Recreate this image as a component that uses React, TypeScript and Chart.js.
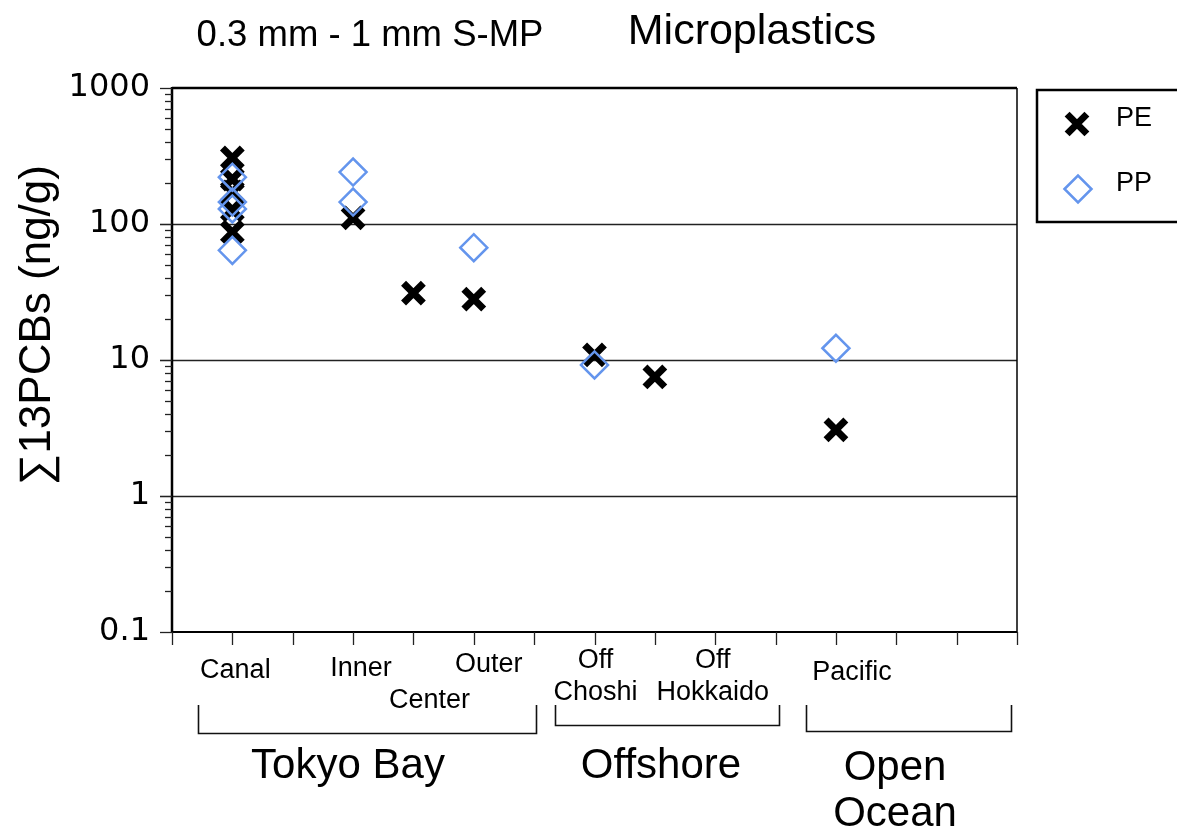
import React, { useEffect, useRef } from 'react';
import { Chart, registerables } from 'chart.js';

Chart.register(...registerables);

// ---- data ----
const categories = ['Canal', 'Inner', 'Center', 'Outer', 'Off Choshi', 'Off Hokkaido', 'Pacific'];
const categoryPositions = [1, 3, 4, 5, 7, 8, 11];
const peValues = [[306, 214, 172, 127, 87], [111], [31], [28], [10.9], [7.5], [3.06]];
const ppValues = [[221, 145, 129, 64], [241, 145], [], [67], [9.2], [], [12.2]];
const yTickValues = [0.1, 1, 10, 100, 1000];
const yTickLabels = ['0.1', '1', '10', '100', '1000'];
const xTickValues = [0, 1, 2, 3, 4, 5, 6, 7, 8, 9, 10, 11, 12, 13, 14];
const groupNames = ['Tokyo Bay', 'Offshore', 'Open\nOcean'];
const seriesNames = ['PE', 'PP'];
const titleLeft = '0.3 mm - 1 mm S-MP';
const titleRight = 'Microplastics';
const yAxisTitle = '\u221113PCBs (ng/g)';

// ---- layout (positions/styles) ----
const catLabelLayout = [
  { dx: 3, lines: ['Canal'], base: [678] },
  { dx: 8, lines: ['Inner'], base: [676] },
  { dx: 16, lines: ['Center'], base: [708] },
  { dx: 15, lines: ['Outer'], base: [672] },
  { dx: 1, lines: ['Off', 'Choshi'], base: [668, 700] },
  { dx: 58, lines: ['Off', 'Hokkaido'], base: [668, 700] },
  { dx: 16, lines: ['Pacific'], base: [680] },
];
const groupLayout = [
  { from: 0.43, to: 6.03, bottom: 733, labelX: 348, base: [778] },
  { from: 6.35, to: 10.06, bottom: 725, labelX: 661, base: [778] },
  { from: 10.5, to: 13.9, bottom: 731, labelX: 895, base: [780, 826] },
];

const PE_COLOR = '#000000';
const PP_COLOR = '#6495ed';

function toPoints(vals: number[][]) {
  const pts: { x: number; y: number }[] = [];
  vals.forEach((arr, i) => arr.forEach((v) => pts.push({ x: categoryPositions[i], y: v })));
  return pts;
}

const decorPlugin = {
  id: 'decor',
  beforeDatasetsDraw(chart: any) {
    const { ctx, chartArea: a, scales } = chart;
    const y = scales.y;
    const x = scales.x;
    ctx.save();
    ctx.strokeStyle = '#222';
    ctx.lineWidth = 1.5;
    [1, 10, 100].forEach((v) => {
      const py = Math.round(y.getPixelForValue(v)) + 0.5;
      ctx.beginPath();
      ctx.moveTo(a.left, py);
      ctx.lineTo(a.right, py);
      ctx.stroke();
    });
    ctx.strokeStyle = '#000';
    ctx.lineWidth = 2.5;
    ctx.beginPath();
    ctx.moveTo(a.left, y.getPixelForValue(1000));
    ctx.lineTo(a.right, y.getPixelForValue(1000));
    ctx.stroke();
    ctx.beginPath();
    ctx.moveTo(a.left, a.top - 1);
    ctx.lineTo(a.left, a.bottom + 1);
    ctx.stroke();
    ctx.lineWidth = 2;
    ctx.beginPath();
    ctx.moveTo(a.left, a.bottom);
    ctx.lineTo(a.right, a.bottom);
    ctx.stroke();
    ctx.lineWidth = 1.5;
    ctx.beginPath();
    ctx.moveTo(a.right, a.top);
    ctx.lineTo(a.right, a.bottom);
    ctx.stroke();
    ctx.lineWidth = 1.3;
    ctx.strokeStyle = '#222';
    for (let e = -1; e < 3; e++) {
      for (let m = 1; m <= 10; m++) {
        const v = m * Math.pow(10, e);
        const py = Math.round(y.getPixelForValue(v)) + 0.5;
        const major = m === 1 || m === 10;
        ctx.beginPath();
        ctx.moveTo(major ? a.left - 12 : a.left - 7, py);
        ctx.lineTo(a.left, py);
        ctx.stroke();
      }
    }
    xTickValues.forEach((v) => {
      const px = Math.round(x.getPixelForValue(v)) + 0.5;
      ctx.beginPath();
      ctx.moveTo(px, a.bottom);
      ctx.lineTo(px, a.bottom + 13);
      ctx.stroke();
    });
    ctx.restore();
  },
  afterDraw(chart: any) {
    const { ctx, scales } = chart;
    const x = scales.x;
    ctx.save();
    ctx.fillStyle = '#000';
    ctx.textBaseline = 'alphabetic';
    ctx.textAlign = 'center';
    ctx.font = '27px "Liberation Sans", Arial, sans-serif';
    categories.forEach((_, i) => {
      const l = catLabelLayout[i];
      const px = x.getPixelForValue(categoryPositions[i]) + l.dx;
      l.lines.forEach((t, j) => ctx.fillText(t, px, l.base[j]));
    });
    ctx.strokeStyle = '#111';
    ctx.lineWidth = 1.6;
    ctx.font = '42px "Liberation Sans", Arial, sans-serif';
    groupNames.forEach((g, i) => {
      const gl = groupLayout[i];
      const x0 = Math.round(x.getPixelForValue(gl.from)) + 0.5;
      const x1 = Math.round(x.getPixelForValue(gl.to)) + 0.5;
      ctx.beginPath();
      ctx.moveTo(x0, 705);
      ctx.lineTo(x0, gl.bottom + 0.5);
      ctx.lineTo(x1, gl.bottom + 0.5);
      ctx.lineTo(x1, 705);
      ctx.stroke();
      g.split('\n').forEach((t, j) => ctx.fillText(t, gl.labelX, gl.base[j]));
    });
    ctx.font = '36.5px "Liberation Sans", Arial, sans-serif';
    ctx.textBaseline = 'middle';
    ctx.fillText(titleLeft, 370, 36);
    ctx.font = '43px "Liberation Sans", Arial, sans-serif';
    ctx.fillText(titleRight, 752, 32);
    ctx.save();
    ctx.translate(38, 325);
    ctx.rotate(-Math.PI / 2);
    ctx.font = '44px "Liberation Sans", Arial, sans-serif';
    ctx.fillText(yAxisTitle, 0, 0);
    ctx.restore();
    // legend
    ctx.strokeStyle = '#000';
    ctx.lineWidth = 2.5;
    ctx.strokeRect(1037, 90, 200, 132);
    const ds = chart.data.datasets;
    const pe = ds.find((d: any) => d.label === seriesNames[0]);
    const pp = ds.find((d: any) => d.label === seriesNames[1]);
    ctx.strokeStyle = pe.borderColor;
    ctx.lineWidth = pe.pointBorderWidth;
    const cx1 = 1077, cy1 = 124, r1 = pe.pointRadius * Math.SQRT1_2;
    ctx.beginPath();
    ctx.moveTo(cx1 - r1, cy1 - r1);
    ctx.lineTo(cx1 + r1, cy1 + r1);
    ctx.moveTo(cx1 + r1, cy1 - r1);
    ctx.lineTo(cx1 - r1, cy1 + r1);
    ctx.stroke();
    ctx.strokeStyle = pp.borderColor;
    ctx.lineWidth = pp.pointBorderWidth;
    const cx2 = 1078, cy2 = 189, r2 = pp.pointRadius;
    ctx.beginPath();
    ctx.moveTo(cx2 - r2, cy2);
    ctx.lineTo(cx2, cy2 - r2);
    ctx.lineTo(cx2 + r2, cy2);
    ctx.lineTo(cx2, cy2 + r2);
    ctx.closePath();
    ctx.stroke();
    ctx.fillStyle = '#000';
    ctx.textAlign = 'left';
    ctx.font = '27px "Liberation Sans", Arial, sans-serif';
    ctx.fillText(seriesNames[0], 1116, 119);
    ctx.fillText(seriesNames[1], 1116, 184);
    ctx.restore();
  },
};

export default function App() {
  const ref = useRef<HTMLCanvasElement>(null);
  useEffect(() => {
    if (!ref.current) return;
    const chart = new Chart(ref.current, {
      type: 'scatter',
      data: {
        datasets: [
          {
            label: seriesNames[1],
            data: toPoints(ppValues),
            pointStyle: 'rectRot',
            pointRadius: 13.5,
            pointBorderWidth: 2.5,
            borderColor: PP_COLOR,
            backgroundColor: 'rgba(0,0,0,0)',
            order: 0,
          } as any,
          {
            label: seriesNames[0],
            data: toPoints(peValues),
            pointStyle: 'crossRot',
            pointRadius: 14,
            pointBorderWidth: 7,
            borderColor: PE_COLOR,
            backgroundColor: PE_COLOR,
            order: 1,
          } as any,
        ],
      },
      options: {
        responsive: false,
        animation: false,
        events: [],
        layout: { padding: { top: 88, right: 160, bottom: 206, left: 0 } },
        plugins: { legend: { display: false }, tooltip: { enabled: false } },
        scales: {
          x: { type: 'linear', min: 0, max: 14, display: false },
          y: {
            type: 'logarithmic',
            min: 0.1,
            max: 1000,
            afterFit: (s: any) => {
              s.width = 172;
            },
            afterBuildTicks: (s: any) => {
              s.ticks = yTickValues.map((v) => ({ value: v }));
            },
            grid: { display: false },
            border: { display: false },
            ticks: {
              padding: 14,
              color: '#000',
              font: { family: '"DejaVu Sans", sans-serif', size: 32 },
              callback: (v: any) => {
                const i = yTickValues.indexOf(Number(v));
                return i >= 0 ? yTickLabels[i] : '';
              },
            },
          },
        },
      },
      plugins: [decorPlugin],
    });
    return () => chart.destroy();
  }, []);
  return (
    <div style={{ position: 'absolute', left: 0, top: 0, width: 1177, height: 838, background: '#fff' }}>
      <canvas ref={ref} width={1177} height={838} style={{ width: 1177, height: 838 }} />
    </div>
  );
}
